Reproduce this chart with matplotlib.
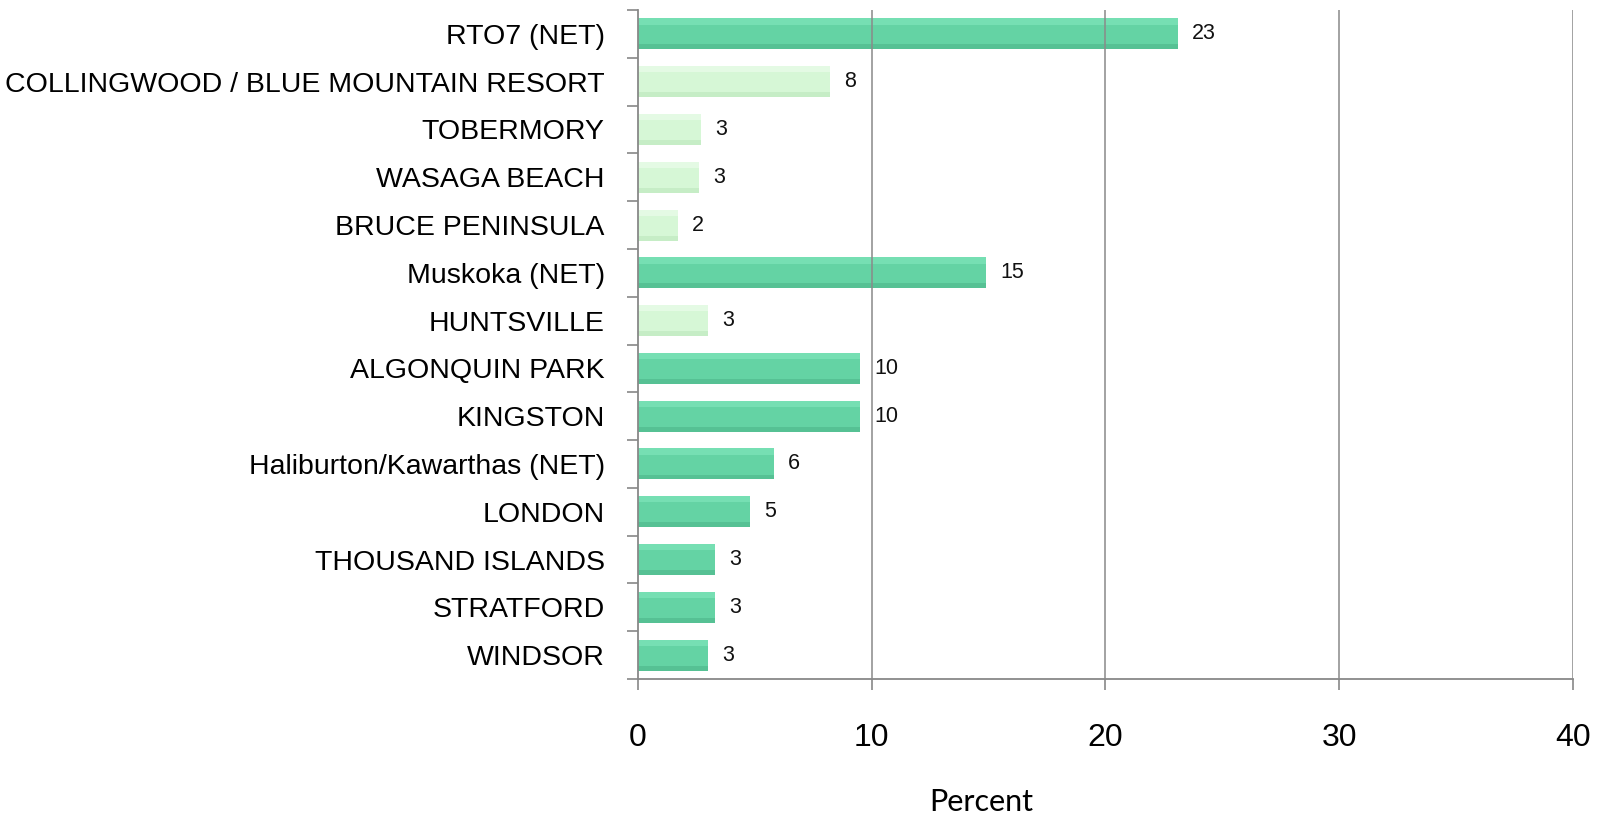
import matplotlib
matplotlib.use("Agg")
import matplotlib.pyplot as plt
import numpy as np

categories = ["RTO7 (NET)", "COLLINGWOOD / BLUE MOUNTAIN RESORT", "TOBERMORY",
              "WASAGA BEACH", "BRUCE PENINSULA", "Muskoka (NET)", "HUNTSVILLE",
              "ALGONQUIN PARK", "KINGSTON", "Haliburton/Kawarthas (NET)", "LONDON",
              "THOUSAND ISLANDS", "STRATFORD", "WINDSOR"]
values = [23.1, 8.2, 2.7, 2.6, 1.7, 14.9, 3.0, 9.5, 9.5, 5.8, 4.8, 3.3, 3.3, 3.0]
light = [False, True, True, True, True, False, True, False, False, False, False,
         False, False, False]
x_ticks = [0, 10, 20, 30, 40]

DARK = ("#64d3a4", "#76dfb3", "#56c194")
LIGHT = ("#d6f7d6", "#e4fae4", "#c6edc6")

fig = plt.figure(figsize=(16.06, 8.17), dpi=100)
ax = fig.add_axes([638 / 1606, 1 - 679 / 817, (1573 - 638) / 1606, (679 - 10) / 817])

y = np.arange(len(categories))
h = 0.65
for yi, v, lt in zip(y, values, light):
    main, top, bot = LIGHT if lt else DARK
    ax.barh(yi, v, height=h, color=main, zorder=2)
    # bevel: lighter upper strip, darker lower strip
    ax.barh(yi - h * 0.4, v, height=h * 0.2, color=top, zorder=2.1)
    ax.barh(yi + h * 0.42, v, height=h * 0.16, color=bot, zorder=2.1)
    ax.text(v + 0.6, yi, f"{round(v):d}", va="center", ha="left",
            fontsize=15.5, family="Liberation Sans", color="#111111")

ax.set_ylim(len(categories) - 0.5, -0.5)
ax.set_xlim(0, 40)
ax.set_yticks(y)
ax.set_yticklabels(categories, fontsize=20.5, family="Liberation Sans")
ax.set_yticks(np.arange(len(categories) + 1) - 0.5, minor=True)
ax.tick_params(axis="y", which="major", length=0, pad=24)
ax.tick_params(axis="y", which="minor", length=8, color="#888888", width=1.2)

ax.set_xticks(x_ticks)
ax.set_xticklabels([str(t) for t in x_ticks], fontsize=23, family="Liberation Sans")
ax.tick_params(axis="x", length=8, color="#888888", width=1.2, pad=24)
fig.text(981 / 1606, 1 - 802 / 817, "Percent", fontsize=22, family="Lato",
         ha="center", va="center")

for t in x_ticks[1:]:
    ax.axvline(t, color="#8a8a8a", lw=1.3, alpha=0.85, zorder=3)

for s in ["top", "right"]:
    ax.spines[s].set_visible(False)
for s in ["left", "bottom"]:
    ax.spines[s].set_color("#888888")
    ax.spines[s].set_linewidth(1.3)

fig.savefig("out.png", dpi=100)
